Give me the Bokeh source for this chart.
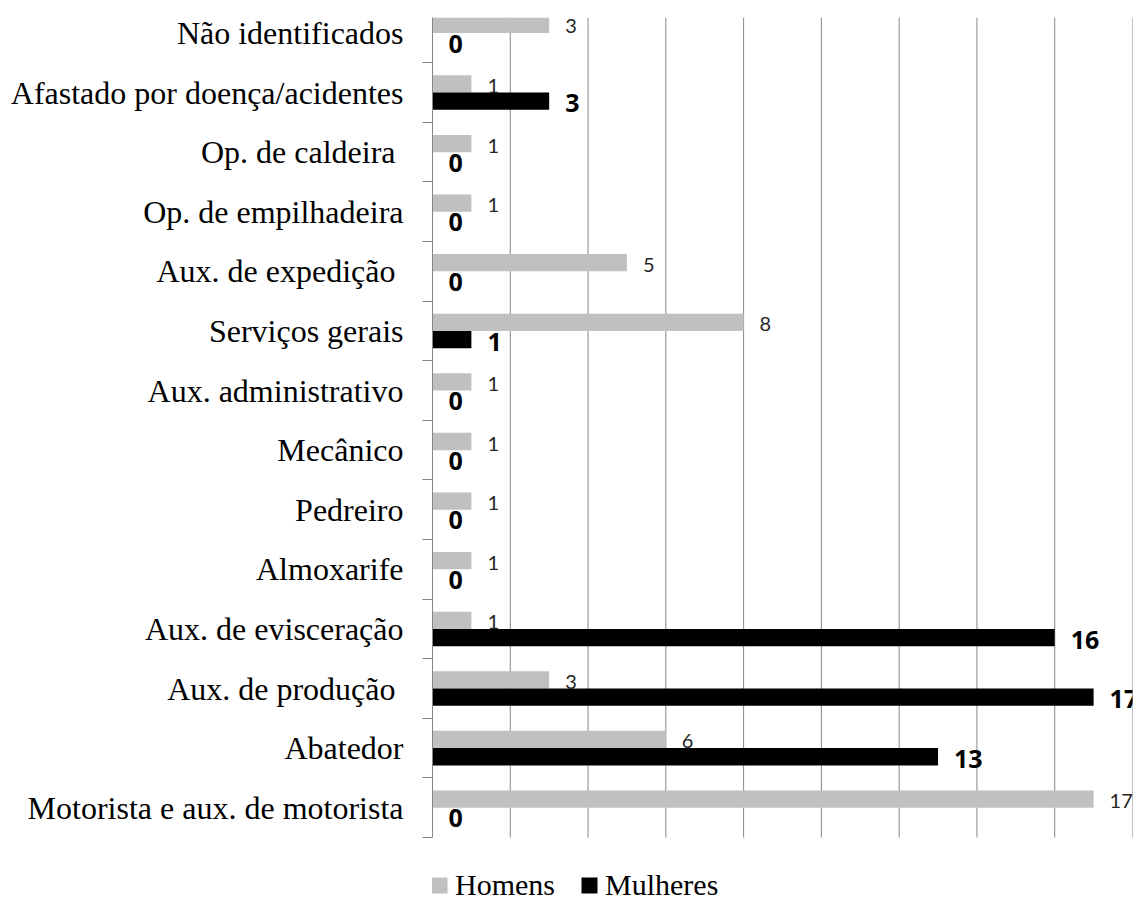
from bokeh.plotting import figure
from bokeh.models import (Range1d, FixedTicker, Legend, LegendItem, ColumnDataSource)
from bokeh.core.properties import value
from bokeh.embed import file_html
from bokeh.resources import INLINE

# Occupations, listed top to bottom
categories = [
    "Não identificados",
    "Afastado por doença/acidentes",
    "Op. de caldeira\u00a0",
    "Op. de empilhadeira",
    "Aux. de expedição\u00a0",
    "Serviços gerais",
    "Aux. administrativo",
    "Mecânico",
    "Pedreiro",
    "Almoxarife",
    "Aux. de evisceração",
    "Aux. de produção\u00a0",
    "Abatedor",
    "Motorista e aux. de motorista",
]
homens = [3, 1, 1, 1, 5, 8, 1, 1, 1, 1, 1, 3, 6, 17]
mulheres = [0, 3, 0, 0, 0, 1, 0, 0, 0, 0, 16, 17, 13, 0]
grid_ticks = [2, 4, 6, 8, 10, 12, 14, 16, 18]

n = len(categories)
# numeric band centres: first category at the top
centers = [n - 1 - i + 0.5 for i in range(n)]
bar_h = 0.29
shift = bar_h / 2
y_top = 13.76          # top of the plotting area (the first band is trimmed)
y_bottom = -1.124      # room under the bars for the legend

src = ColumnDataSource(dict(
    cat=categories,
    yc=centers,
    yh=[c + shift for c in centers],
    ym=[c - shift for c in centers],
    homens=homens,
    mulheres=mulheres,
    hl=[str(v) for v in homens],
    ml=[str(v) for v in mulheres],
))

p = figure(width=1142, height=904, output_backend="svg", toolbar_location=None,
           x_range=Range1d(0, 18), y_range=Range1d(y_bottom, y_top),
           min_border_left=432, min_border_right=10,
           min_border_top=17, min_border_bottom=0)
p.outline_line_color = None
p.background_fill_color = "white"
p.border_fill_color = "white"

# vertical grid lines, stopping at the bottom of the category area
p.segment(x0=grid_ticks, y0=[0] * len(grid_ticks),
          x1=grid_ticks, y1=[y_top] * len(grid_ticks),
          line_color="#868686", line_width=1)

r_h = p.hbar(y="yh", right="homens", left=0, height=bar_h, source=src,
             fill_color="#c0c0c0", line_color=None)
r_m = p.hbar(y="ym", right="mulheres", left=0, height=bar_h, source=src,
             fill_color="#000000", line_color=None)

# value labels
p.text(x="homens", y="yh", text="hl", source=src, x_offset=16, y_offset=2,
       text_align="left", text_baseline="middle",
       text_font=value("Lato"), text_font_size="20px", text_color="#262626")
p.text(x="mulheres", y="ym", text="ml", source=src, x_offset=16, y_offset=2,
       text_align="left", text_baseline="middle",
       text_font=value("Open Sans"), text_font_style="bold",
       text_font_size="25px", text_color="#000000")

# axes
p.xaxis.visible = False
p.xgrid.visible = False
p.ygrid.visible = False
yax = p.yaxis[0]
yax.bounds = (0, y_top)
yax.ticker = FixedTicker(ticks=centers, minor_ticks=list(range(0, n + 1)))
yax.major_label_overrides = {c: lab for c, lab in zip(centers, categories)}
yax.major_tick_out = 0
yax.major_tick_in = 0
yax.minor_tick_out = 10
yax.minor_tick_in = 0
yax.minor_tick_line_color = "#868686"
yax.axis_line_color = "#868686"
yax.major_label_standoff = 19
yax.major_label_text_font = "Liberation Serif"
yax.major_label_text_font_size = "32px"
yax.major_label_text_color = "#000000"

legend = Legend(items=[LegendItem(label="Homens", renderers=[r_h]),
                       LegendItem(label="Mulheres", renderers=[r_m])],
                orientation="horizontal", location=(-3, 2),
                label_text_font="Liberation Serif", label_text_font_size="30px",
                label_text_color="#000000",
                glyph_width=20, glyph_height=20, label_standoff=6, spacing=24,
                padding=0, margin=0, border_line_color=None,
                background_fill_alpha=0)
p.add_layout(legend, "center")

open("out.html", "w").write(file_html(p, INLINE))
